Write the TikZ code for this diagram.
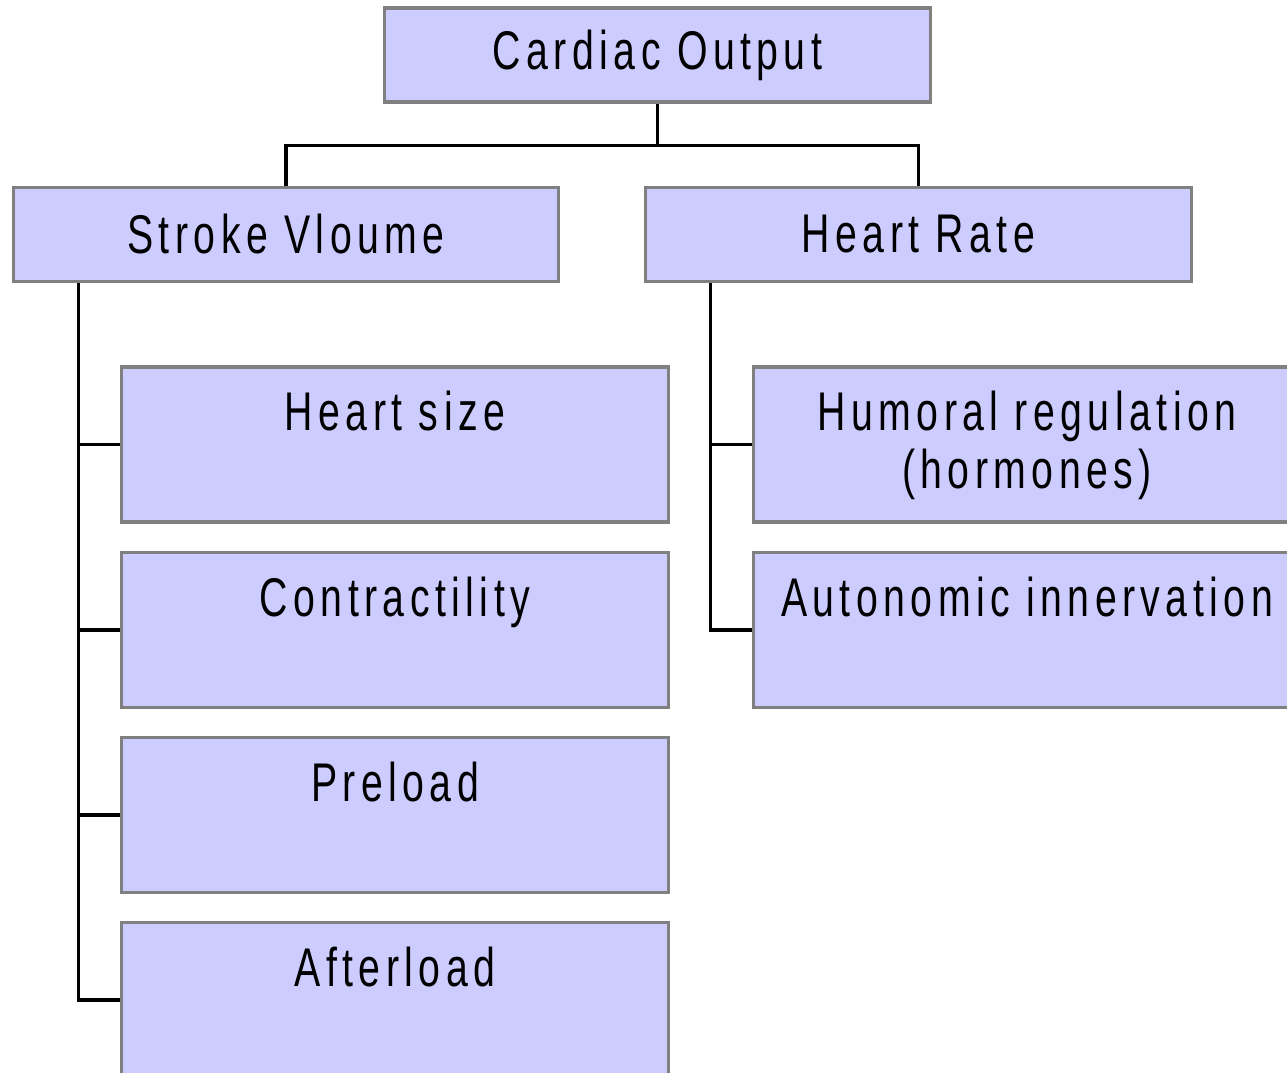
\documentclass[tikz,border=0pt]{standalone}
\usepackage{fontspec}
\setmainfont{Liberation Sans}[FakeStretch=0.72,LetterSpace=10]
\usepackage{tikz}
\definecolor{boxfill}{HTML}{CCCCFF}
\definecolor{boxline}{HTML}{808080}
\tikzstyle{head} = [rectangle, minimum width=5.45cm, minimum height=0.94cm, inner sep=0pt, text centered, draw=boxline, fill=boxfill, line width=0.9pt, font=\fontsize{15.5}{16.5}\selectfont]
\tikzstyle{item} = [rectangle, minimum width=5.46cm, minimum height=1.55cm, inner sep=0pt, draw=boxline, fill=boxfill, line width=0.9pt]
\tikzstyle{title} = [anchor=north, yshift=-0.25cm, inner sep=0pt, align=center, font=\fontsize{15.5}{16.5}\selectfont]
\tikzstyle{link} = [line width=0.9pt, black]

\begin{document}
\begin{tikzpicture}[x=0.01cm, y=-0.01cm]
\useasboundingbox (0,0) rectangle (1287,1073);

\node (co) [head] at (657.5,55) {Cardiac Output};
\node (sv) [head] at (286,234.5) {Stroke Vloume};
\node (hr) [head] at (918.5,234.5) {Heart Rate};

\node (hs) [item, label={[title]north:Heart size}] at (395,444.5) {};
\node (ct) [item, label={[title]north:Contractility}] at (395,630) {};
\node (pl) [item, label={[title]north:Preload}] at (395,815) {};
\node (al) [item, label={[title]north:Afterload}] at (395,1000) {};

\node (hu) [item, label={[title]north:Humoral regulation\\(hormones)}] at (1027,444.5) {};
\node (an) [item, label={[title]north:Autonomic innervation}] at (1027,630) {};

\draw [link] (co.south) -- ++(0,42) -| (sv.north);
\draw [link] (co.south) -- ++(0,42) -| (hr.north);

\draw [link] (sv.south west) ++(67,0) coordinate (svbus) |- (al.west);
\foreach \n in {hs,ct,pl}
  \draw [link] (svbus |- \n.west) -- (\n.west);

\draw [link] (hr.south west) ++(66,0) coordinate (hrbus) |- (an.west);
\draw [link] (hrbus |- hu.west) -- (hu.west);

\end{tikzpicture}
\end{document}
